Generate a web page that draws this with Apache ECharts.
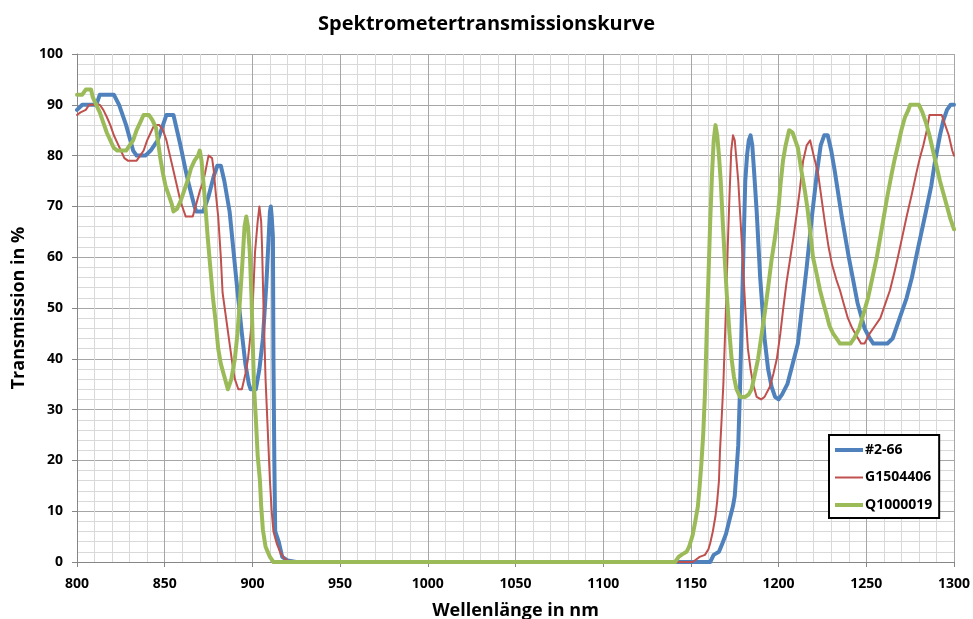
<!DOCTYPE html>
<html>
<head>
<meta charset="utf-8">
<script src="https://cdn.jsdelivr.net/npm/echarts@6/dist/echarts.min.js"></script>
<style>html,body{margin:0;padding:0;background:#fff}#c{width:973px;height:619px}</style>
</head>
<body>
<div id="c"></div>
<script>
const titleText = 'Spektrometertransmissionskurve';
const xName = 'Wellenlänge in nm';
const yName = 'Transmission in %';
const seriesNames = ['#2-66', 'G1504406', 'Q1000019'];
const xMin = 800, xMax = 1300, xStep = 50;
const yMin = 0, yMax = 100, yStep = 10;

const blue = [[800,89],[803,90],[811,90],[813,92],[821,92],[824,90],[828,86],[832,81],[834,80],[839,80],[842,81],[846,83],[849,86],[851,88],[855,88],[857,85],[859,82],[862,77],[864,74],[867,70],[868,69],[872,69],[875,72],[878,76],[880,78],[882,78],[884,75],[887,69],[889,62],[891,55],[894,45],[896,39],[898,35],[899,34],[902,34],[904,38],[906,44],[908,55],[909,62],[910,69],[910.5,70],[911,68],[911.7,64],[912,40],[912.5,20],[913,6],[915,4],[917,1],[920,0.3],[925,0],[1161,0],[1163,1.4],[1166,2],[1168,3.7],[1170,5.5],[1172,8.3],[1174,11],[1175,13],[1176,18],[1177,23],[1178,34],[1179,48],[1180,62],[1181,75],[1182,80],[1183,83],[1184,84],[1185,82],[1186,77],[1187.5,69],[1189.5,56],[1192,44],[1194,38],[1196,34.5],[1198,32.5],[1200,32],[1202,33],[1205,35],[1208,39],[1211,43],[1213,49],[1216,58],[1219,68],[1222,77],[1224,82],[1226,84],[1228,84],[1230,81],[1232,77],[1236,68],[1240,60],[1245,51],[1249,46],[1252,44],[1254,43],[1262,43],[1265,44],[1267,46],[1270,49],[1273,52],[1276,56],[1279,61],[1284,69],[1287,74],[1289,78.5],[1292,84],[1294,87],[1296,89],[1298,90],[1300,90]];

const red = [[800,88],[802,88.5],[805,89],[807,90],[813,90],[815,89],[817,87.6],[819,86],[821,84],[823,82.5],[825,81],[827,79.5],[829,79],[834,79],[836,80],[838,81],[840,83],[842,84.5],[844,86],[847,86],[849,85],[851,83],[853,80],[855,77],[857,74],[859,71],[861,69],[862,68],[866,68],[868,70.5],[870,73],[872,75],[873,76.5],[875,80],[877,79.5],[878,77],[879,73],[880.5,68],[882,60],[883,53],[885,48],[887,43],[889,38],[890,36],[892,34],[894,34],[896,37],[897.5,40],[899,45],[900,49],[901.5,61],[903,67],[904,70],[905,67],[905.5,62],[906.5,48],[907.5,36],[908.5,28],[910,16],[911,10],[912,6],[914,3.5],[916,1.8],[918,0.8],[920,0.3],[925,0],[1151,0],[1153,0.5],[1155,1],[1158,1.4],[1160,2.5],[1161,3.7],[1162.5,6],[1164,9],[1165,12],[1166,16],[1166.6,22],[1167.5,28],[1168.5,35],[1170,50],[1171,62],[1172,72],[1173,81],[1174,84],[1175,83],[1176,79],[1177,75],[1179,63],[1181,50],[1182.5,42],[1184,38],[1185.5,35],[1187.5,32.5],[1190,32],[1192,32.5],[1195,34.5],[1197,37],[1199,40],[1201,45],[1202.5,49.5],[1204.5,55],[1206.5,59.5],[1208.5,64],[1210.5,69],[1212,73],[1214,79],[1216,82],[1218,83],[1220,80],[1222.5,76.5],[1224.5,71.5],[1226.5,66.5],[1228.5,62],[1230.5,58.5],[1233,55.5],[1235,53.5],[1237,51],[1239.5,48],[1242,46],[1244.5,44.5],[1247,43],[1249,43],[1252,45],[1255,46.5],[1258,48],[1261,51],[1263.5,53.5],[1266,57],[1268,60],[1270.5,64],[1273,68],[1276,72.5],[1278.5,76.5],[1280.5,79.5],[1282.5,82],[1284.5,85],[1286,88],[1293,88],[1295,86],[1297,84],[1299,81],[1300,80]];

const green = [[800,92],[803,92],[805,93],[808,93],[809,91.5],[811,90],[813,88.5],[815,86.5],[817,84.5],[819,83],[821,81.5],[823,81],[828,81],[830,82],[832,83],[834,85],[836,86.5],[838,88],[841,88],[843,87],[845,85.5],[846.5,82],[847.5,79.5],[849,76.5],[850.5,74],[852,72.5],[854,70.5],[855,69],[857,69.5],[859,71],[861,73],[863,75],[865,77.5],[867,79],[869,80],[870,81],[871,79],[872,75],[873,71],[874.5,64],[876,58],[877.5,52],[879,47.5],[880.5,42],[882,39],[884,36.5],[886,34],[888,36],[890,40],[891.5,45],[893,52],[894.5,60],[895.5,66],[896.5,68],[897.5,66],[898.5,61],[899.5,52],[900.3,42],[901,34],[902,28],[903,21],[904.3,16],[905,11],[906,6.3],[907.5,3],[909,1.8],[910,1],[912,0],[1141,0],[1143,1],[1145,1.5],[1147.5,2],[1149,3],[1151,5.3],[1152.5,8],[1154,11],[1155,15],[1156,19.5],[1157,25],[1157.5,29],[1158,33],[1159,45],[1160,56],[1161,67],[1162,76],[1163,83],[1164,86],[1165,84],[1166,80],[1167,75],[1168.3,66],[1169.4,59],[1170.4,53],[1172,45],[1173.2,40],[1174.5,36.5],[1176,34],[1178,32.5],[1181,32.5],[1183,33],[1184.6,34],[1186.5,37],[1188.3,40],[1190,44],[1192.3,49.5],[1194,54],[1196,59.5],[1198,64],[1199.8,69],[1201,74],[1202.5,79],[1204,82],[1206,85],[1208,84.5],[1210,82.5],[1211,81.5],[1213,77],[1215,73],[1216.5,69.5],[1218,65],[1219.6,60],[1221.5,57],[1223.6,53.5],[1225.5,51],[1227.5,48.5],[1229,46.5],[1231,45],[1233,44],[1235,43],[1241,43],[1243,44],[1246,46],[1248.5,49],[1251,52],[1253.5,56],[1256,60],[1258,64],[1259.5,67],[1262,72],[1264.5,76.5],[1266,79],[1268,82],[1270,85],[1272,87.5],[1274,89],[1275,90],[1280,90],[1282,88.5],[1284,86.5],[1286,84],[1288,81],[1290,78],[1292,75],[1294,72.5],[1296,70],[1298,67.5],[1300,65.5]];

const FONT = '"Open Sans", "Liberation Sans", sans-serif';
const COLORS = ['#4F81BD', '#C0504D', '#9BBB59'];
const WIDTHS = [4, 2, 4];
const chart = echarts.init(document.getElementById('c'), null, {renderer: 'canvas'});
const mk = (i, data) => ({
  name: seriesNames[i], type: 'line', data, showSymbol: false, symbol: 'none',
  lineStyle: {color: COLORS[i], width: WIDTHS[i], cap: 'round', join: 'round'},
  itemStyle: {color: COLORS[i]}, animation: false, clip: true
});
const iconFor = w => w >= 4 ? 'path://M0,0H28V4H0Z' : 'path://M0,0H28V2H0Z';
chart.setOption({
  animation: false,
  backgroundColor: '#fff',
  title: {text: titleText, left: 'center', top: 9,
    textStyle: {fontFamily: FONT, fontWeight: 'bold', fontSize: 20, color: '#000'}},
  grid: {left: 77, right: 19, top: 54, bottom: 57, containLabel: false, outerBoundsMode: 'none'},
  legend: {
    orient: 'vertical', left: 829, top: 435,
    data: seriesNames.map((n, i) => ({name: n, icon: iconFor(WIDTHS[i]), itemStyle: {color: COLORS[i]}})),
    symbolKeepAspect: true,
    backgroundColor: '#fff', borderColor: '#000', borderWidth: 2,
    padding: [8, 7, 6, 6], itemWidth: 28, itemHeight: 14, itemGap: 13.5,
    textStyle: {fontFamily: FONT, fontWeight: 'bold', fontSize: 14, color: '#000', padding: [0,0,0,-3]}
  },
  xAxis: {
    type: 'value', min: xMin, max: xMax, interval: xStep,
    name: xName, nameLocation: 'middle', nameGap: 40,
    nameTextStyle: {fontFamily: FONT, fontWeight: 'bold', fontSize: 18, color: '#000'},
    axisLine: {show: true, onZero: false, lineStyle: {color: '#868686', width: 1}},
    axisTick: {show: true, length: 5, lineStyle: {color: '#868686'}},
    axisLabel: {margin: 15, fontFamily: FONT, fontWeight: 'bold', fontSize: 14, color: '#000',
      formatter: v => String(v)},
    splitLine: {show: true, lineStyle: {color: '#a6a6a6', width: 1}},
    minorTick: {show: false, splitNumber: 5},
    minorSplitLine: {show: true, lineStyle: {color: '#d9d9d9', width: 1}}
  },
  yAxis: {
    type: 'value', min: yMin, max: yMax, interval: yStep,
    name: yName, nameLocation: 'middle', nameGap: 47, nameRotate: 90,
    nameTextStyle: {fontFamily: FONT, fontWeight: 'bold', fontSize: 18, color: '#000'},
    axisLine: {show: true, lineStyle: {color: '#868686', width: 1}},
    axisTick: {show: true, length: 5, lineStyle: {color: '#868686'}},
    axisLabel: {margin: 14, fontFamily: FONT, fontWeight: 'bold', fontSize: 14, color: '#000',
      formatter: v => String(v)},
    splitLine: {show: true, lineStyle: {color: '#a6a6a6', width: 1}},
    minorTick: {show: false, splitNumber: 5},
    minorSplitLine: {show: true, lineStyle: {color: '#d9d9d9', width: 1}}
  },
  series: [mk(0, blue), mk(1, red), mk(2, green)]
});
</script>
</body>
</html>
